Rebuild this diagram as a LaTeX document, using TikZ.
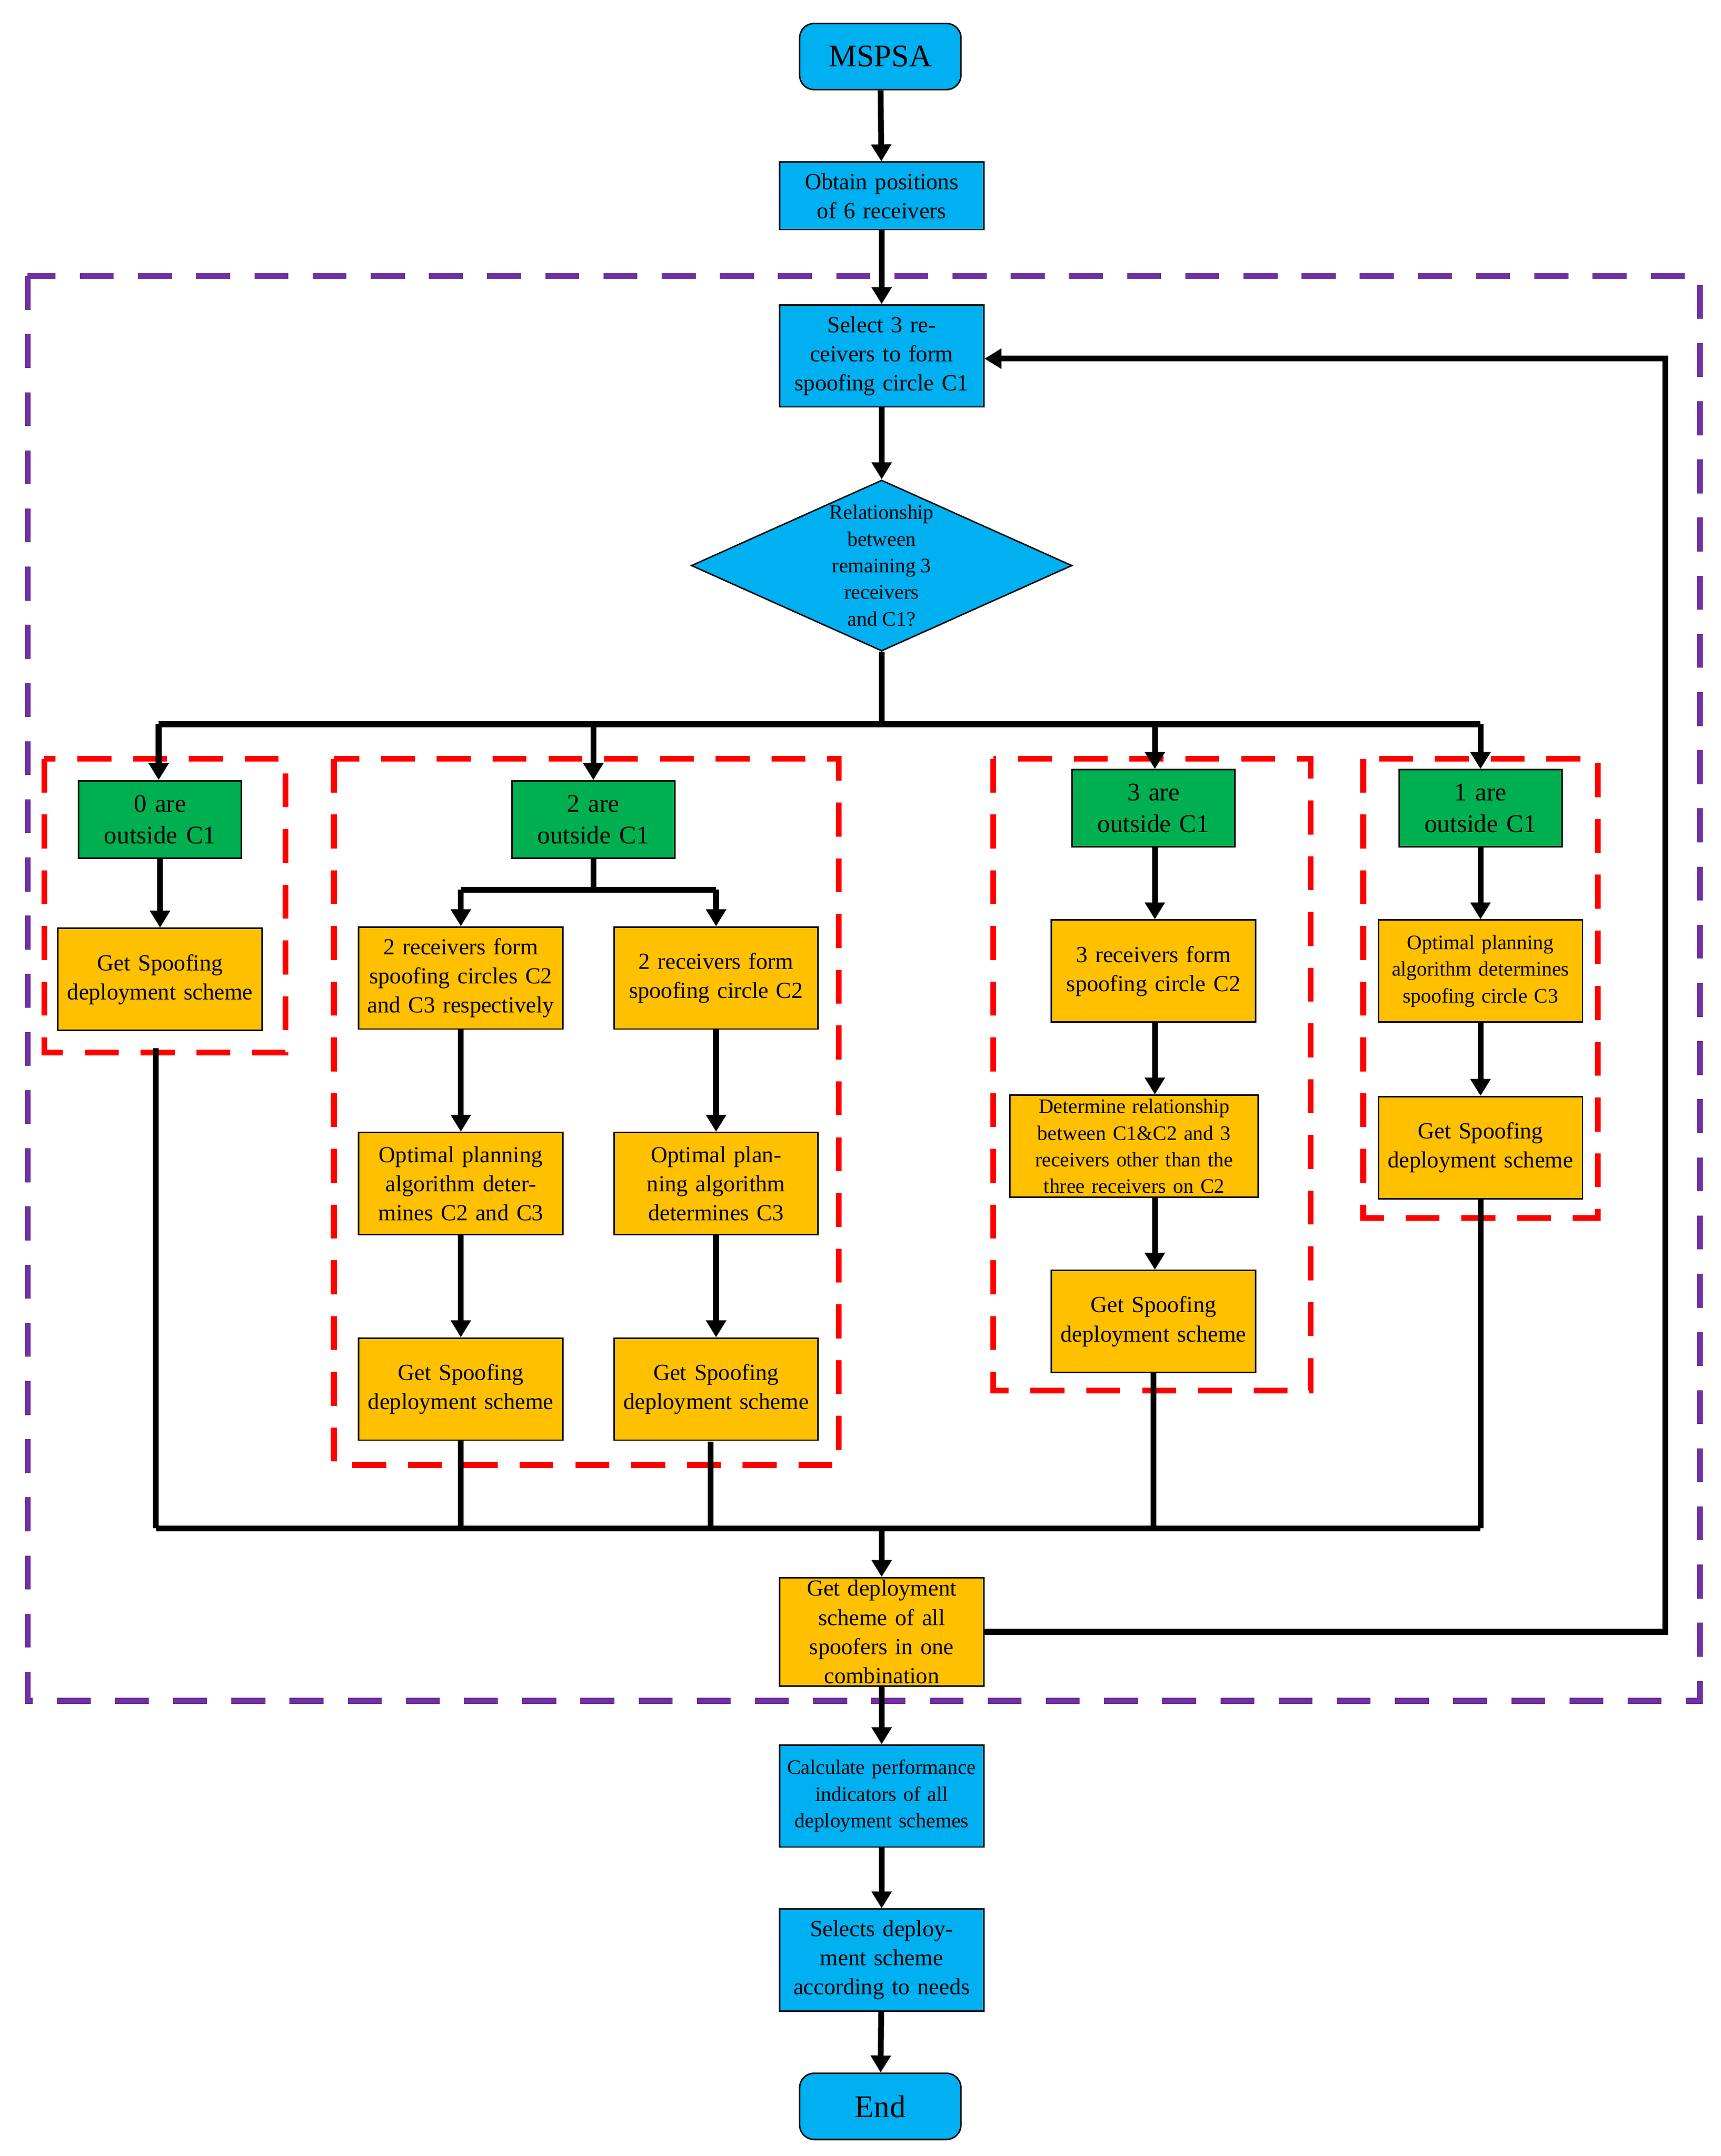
\documentclass[tikz,border=0pt]{standalone}
\usepackage{fontspec}
\setmainfont{Liberation Serif}
\usetikzlibrary{arrows.meta,shapes.geometric}
\definecolor{cy}{HTML}{00B0F0}
\definecolor{gr}{HTML}{00B050}
\definecolor{og}{HTML}{FFC000}
\definecolor{pu}{HTML}{7030A0}
\begin{document}
\begin{tikzpicture}[x=0.02cm,y=-0.02cm,
 box/.style={draw,line width=0.6pt,minimum width=2.96cm,minimum height=1.48cm,align=center,text width=2.8cm,font=\fontsize{9.5}{12}\selectfont,inner sep=1pt},
 cb/.style={box,fill=cy},
 ob/.style={box,fill=og},
 gb/.style={box,fill=gr,minimum width=2.36cm,minimum height=1.12cm,text width=2.2cm,font=\fontsize{10.5}{13}\selectfont},
 term/.style={draw,fill=cy,rounded corners=6pt,minimum width=2.34cm,minimum height=0.96cm,font=\fontsize{13}{15}\selectfont,line width=0.6pt},
 ar/.style={line width=2.4pt,-{Triangle[length=7pt,width=8pt]}},
 ln/.style={line width=2.4pt},
 rd/.style={draw=red,line width=2.4pt,dash pattern=on 14pt off 9pt},
 pd/.style={draw=pu,line width=2.4pt,dash pattern=on 14pt off 10pt}]
\useasboundingbox (0,0) rectangle (1247,1563);
\draw[pd] (20,200) rectangle (1232,1233);
\draw[rd] (32,550) rectangle (207,763);
\draw[rd] (242,550) rectangle (608,1062);
\draw[rd] (720,550) rectangle (950,1008);
\draw[rd] (988,550) rectangle (1158,883);

\node[term] (ms) at (638,41) {MSPSA};
\node[cb,minimum height=0.98cm] (ob) at (639,142) {Obtain positions of 6 receivers};
\node[cb] (sel) at (639,258) {Select 3 receivers to form spoofing circle C1};
\node[draw,fill=cy,diamond,aspect=2.23,minimum width=5.52cm,minimum height=2.48cm,inner sep=0pt,line width=0.6pt,align=center,font=\fontsize{8.5}{11}\selectfont] (dia) at (639,410) {Relationship\\between\\remaining 3\\receivers\\and C1?};

\node[gb] (g0) at (116,594) {0 are\\outside C1};
\node[gb] (g2) at (430,594) {2 are\\outside C1};
\node[gb] (g3) at (836,586) {3 are\\outside C1};
\node[gb] (g1) at (1073,586) {1 are\\outside C1};

\node[ob] (a1) at (116,710) {Get Spoofing deployment scheme};
\node[ob] (bl1) at (334,709) {2 receivers form spoofing circles C2 and C3 respectively};
\node[ob] (br1) at (519,709) {2 receivers form spoofing circle C2};
\node[ob] (bl2) at (334,858) {Optimal planning algorithm determines C2 and C3};
\node[ob] (br2) at (519,858) {Optimal planning algorithm determines C3};
\node[ob] (bl3) at (334,1007) {Get Spoofing deployment scheme};
\node[ob] (br3) at (519,1007) {Get Spoofing deployment scheme};
\node[ob] (c1) at (836,704) {3 receivers form spoofing circle C2};
\node[ob,minimum width=3.6cm,text width=3.5cm,font=\fontsize{8.5}{11}\selectfont] (c2) at (822,831) {Determine relationship between C1\&C2 and 3 receivers other than the three receivers on C2};
\node[ob] (c3) at (836,958) {Get Spoofing deployment scheme};
\node[ob,font=\fontsize{8.5}{11}\selectfont] (d1) at (1073,704) {Optimal planning algorithm determines spoofing circle C3};
\node[ob] (d2) at (1073,832) {Get Spoofing deployment scheme};

\node[ob] (gd) at (639,1183) {Get deployment scheme of all spoofers in one combination};
\node[cb,font=\fontsize{8.5}{11}\selectfont] (calc) at (639,1302) {Calculate performance indicators of all deployment schemes};
\node[cb] (sl) at (639,1421) {Selects deployment scheme according to needs};
\node[term] (end) at (638,1527) {End};

\draw[ar] (ms) -- (ob);
\draw[ar] (ob) -- (sel);
\draw[ar] (sel) -- (dia);
\coordinate (br) at (639,525);
\draw[ln] (dia.south) -- (br);
\draw[ln] (115,525) -- (1073,525);
\draw[ar] (115,525) -- (g0.north -| 115,0);
\draw[ar] (430,525) -- (g2.north);
\draw[ar] (837,525) -- (g3.north -| 837,0);
\draw[ar] (1073,525) -- (g1.north);

\draw[ar] (g0) -- (a1);
\coordinate (fk) at (430,645);
\draw[ln] (g2.south) -- (fk);
\draw[ln] (334,645) -- (519,645);
\draw[ar] (334,645) -- (bl1.north);
\draw[ar] (519,645) -- (br1.north);
\draw[ar] (bl1) -- (bl2);
\draw[ar] (bl2) -- (bl3);
\draw[ar] (br1) -- (br2);
\draw[ar] (br2) -- (br3);
\draw[ar] (g3.south -| 837,0) -- (c1.north -| 837,0);
\draw[ar] (c1.south -| 837,0) -- (c2.north -| 837,0);
\draw[ar] (c2.south -| 837,0) -- (c3.north -| 837,0);
\draw[ar] (g1) -- (d1);
\draw[ar] (d1) -- (d2);

\coordinate (m) at (639,1108);
\draw[ln] (113,1108) -- (1073,1108);
\draw[ln] (113,760) -- (113,1108);
\draw[ln] (bl3.south) -- (334,1108);
\draw[ln] (515,1045) -- (515,1108);
\draw[ln] (c3.south) -- (836,1108);
\draw[ln] (d2.south) -- (1073,1108);
\draw[ar] (m) -- (gd.north);
\draw[ar] (gd.east) -- (1207,1183) -- (1207,260) -- (sel.east |- 0,260);
\draw[ar] (gd) -- (calc);
\draw[ar] (calc) -- (sl);
\draw[ar] (sl) -- (end);
\end{tikzpicture}
\end{document}
